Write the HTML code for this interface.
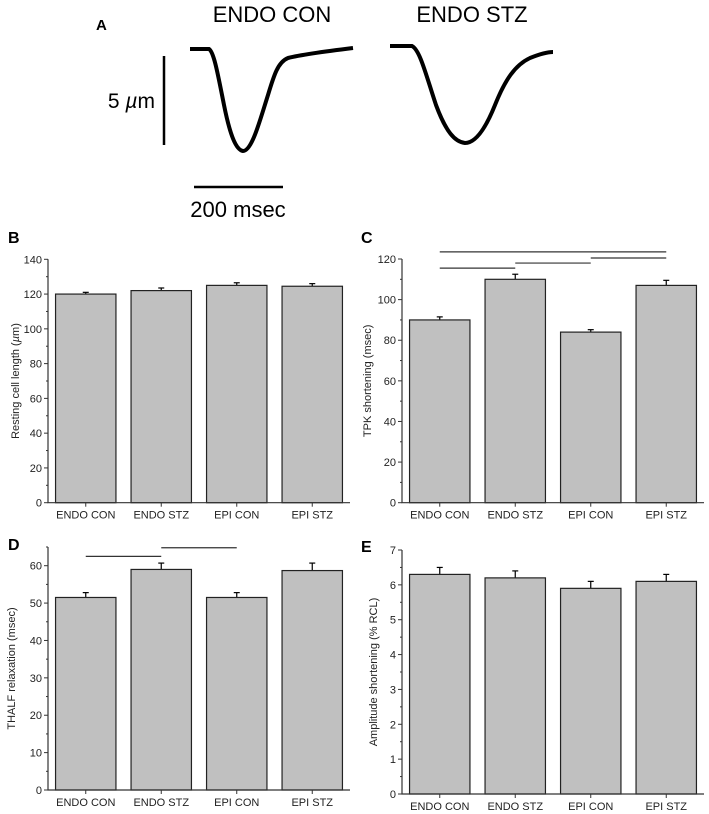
<!DOCTYPE html>
<html><head><meta charset="utf-8"><style>
html,body{margin:0;padding:0;background:#fff;}
svg{display:block;font-family:"Liberation Sans",Arial,sans-serif;}
</style></head><body>
<svg id="fig" width="709" height="814" viewBox="0 0 709 814">
<g>
<text x="96" y="30" font-size="15" font-weight="bold">A</text>
<text x="272" y="22" font-size="22" text-anchor="middle">ENDO CON</text>
<text x="472" y="22" font-size="22" text-anchor="middle">ENDO STZ</text>
<path d="M190,49 L209,49 C214,52 218,75 224,105 C230,135 236,150 243,151 C252,151 260,120 268,95 C274,75 278,62 288,58 C300,55 320,52 353,48" fill="none" stroke="#000" stroke-width="4"/>
<path d="M390,46 L412,46 C420,50 426,75 436,105 C446,132 455,142 465,143 C475,143 485,130 495,105 C505,80 515,65 530,58 C540,54 548,52 553,52" fill="none" stroke="#000" stroke-width="4"/>
<line x1="164" y1="56" x2="164" y2="145" stroke="#000" stroke-width="2.5"/>
<text x="155" y="108" font-size="21" text-anchor="end">5 <tspan font-style="italic">µ</tspan>m</text>
<line x1="194" y1="187" x2="283" y2="187" stroke="#000" stroke-width="2.5"/>
<text x="238" y="217" font-size="22" text-anchor="middle">200 msec</text>
</g>
</svg>
<script>
const categories = ["ENDO CON","ENDO STZ","EPI CON","EPI STZ"];
const valuesB = [120, 122, 125, 124.5];
const errorsB = [1, 1.5, 1.5, 1.5];
const ticksB = [0,20,40,60,80,100,120,140];
const valuesC = [90, 110, 84, 107];
const errorsC = [1.5, 2.5, 1.2, 2.5];
const ticksC = [0,20,40,60,80,100,120];
const valuesD = [51.5, 59, 51.5, 58.7];
const errorsD = [1.3, 1.7, 1.3, 2];
const ticksD = [0,10,20,30,40,50,60];
const valuesE = [6.3, 6.2, 5.9, 6.1];
const errorsE = [0.2, 0.2, 0.2, 0.2];
const ticksE = [0,1,2,3,4,5,6,7];
// significance bars: [fromCategory, toCategory, value level]
const sigC = [[0,3,123.5],[0,1,115.5],[1,2,118],[2,3,120.5]];
const sigD = [[0,1,62.5],[1,2,64.8]];

const NS = "http://www.w3.org/2000/svg";
const svg = document.getElementById('fig');
function mk(tag, attrs, parent){const e=document.createElementNS(NS,tag);for(const k in attrs)e.setAttribute(k,attrs[k]);parent.appendChild(e);return e;}

function panel(cfg){
  const g = mk('g',{},svg);
  
  
  const {x0,x1,y0,yTop,vmax,axisMax} = cfg;
  const ys = v => y0 - (v/vmax)*(y0-yTop);
  const band = (x1-x0)/categories.length;
  const xc = i => x0 + band*(i+0.5);
  const lbl = mk('text',{x:cfg.lx,y:cfg.ly,'font-size':16,'font-weight':'bold'},g);
  lbl.textContent = cfg.id.toUpperCase();
  
  
  // bars
  cfg.values.forEach((v,i)=>{
    const bw = band*0.8;
    const top = ys(v), e = ys(v+cfg.errors[i]);
    const el = mk('line',{x1:xc(i),x2:xc(i),y1:top,y2:e,stroke:'#000','stroke-width':1.2},g);
    
    
    const cap = mk('line',{x1:xc(i)-3,x2:xc(i)+3,y1:e,y2:e,stroke:'#000','stroke-width':1.2},g);
    
    
    const r = mk('rect',{x:xc(i)-bw/2,y:top,width:bw,height:y0-top,fill:'#c0c0c0',stroke:'#222','stroke-width':1.2},g);
    
    
  });
  // axes
  const ax = mk('path',{d:`M${x0},${ys(axisMax)} L${x0},${y0} L${x1},${y0}`,fill:'none',stroke:'#333','stroke-width':1.2},g);
  
  
  const step = cfg.ticks[1]-cfg.ticks[0];
  for(let v=0; v<=axisMax+1e-9; v+=step/2){
    const major = Math.abs(v/step - Math.round(v/step))<1e-6;
    const t = mk('line',{x1:x0-(major?4:2),x2:x0,y1:ys(v),y2:ys(v),stroke:'#333','stroke-width':1},g);
    
    
  }
  cfg.ticks.forEach(v=>{
    const t = mk('text',{x:x0-6,y:ys(v)+4,'font-size':11,'text-anchor':'end',fill:'#222'},g);
    t.textContent = v;
    
    
  });
  categories.forEach((c,i)=>{
    const t = mk('line',{x1:xc(i),x2:xc(i),y1:y0,y2:y0+4,stroke:'#333','stroke-width':1},g);
    
    
    const tx = mk('text',{x:xc(i),y:y0+16,'font-size':11,'text-anchor':'middle',fill:'#222'},g);
    tx.textContent = c;
    
    
  });
  const ty = (y0+ys(axisMax))/2;
  const tt = mk('text',{x:cfg.tx,y:ty,'font-size':11,'text-anchor':'middle',fill:'#222',transform:`rotate(-90 ${cfg.tx} ${ty})`},g);
  tt.innerHTML = cfg.title;
  
  
  (cfg.sig||[]).forEach(s=>{
    const l = mk('line',{x1:xc(s[0]),x2:xc(s[1]),y1:ys(s[2]),y2:ys(s[2]),stroke:'#333','stroke-width':1.2},g);
    
    
  });
}
panel({id:'b',x0:48,x1:350,y0:502.7,yTop:259.3,vmax:140,axisMax:140,values:valuesB,errors:errorsB,ticks:ticksB,lx:8,ly:243,tx:19,title:'Resting cell length (<tspan font-style="italic">µ</tspan>m)'});
panel({id:'c',x0:402,x1:704,y0:502.7,yTop:259,vmax:120,axisMax:120,values:valuesC,errors:errorsC,ticks:ticksC,sig:sigC,lx:361,ly:243,tx:371,title:'TPK shortening (msec)'});
panel({id:'d',x0:48,x1:350,y0:790,yTop:565.7,vmax:60,axisMax:65,values:valuesD,errors:errorsD,ticks:ticksD,sig:sigD,lx:8,ly:550,tx:15,title:'THALF relaxation (msec)'});
panel({id:'e',x0:402,x1:704,y0:794,yTop:550,vmax:7,axisMax:7,values:valuesE,errors:errorsE,ticks:ticksE,lx:361,ly:552,tx:377,title:'Amplitude shortening (% RCL)'});
</script>
</body></html>
